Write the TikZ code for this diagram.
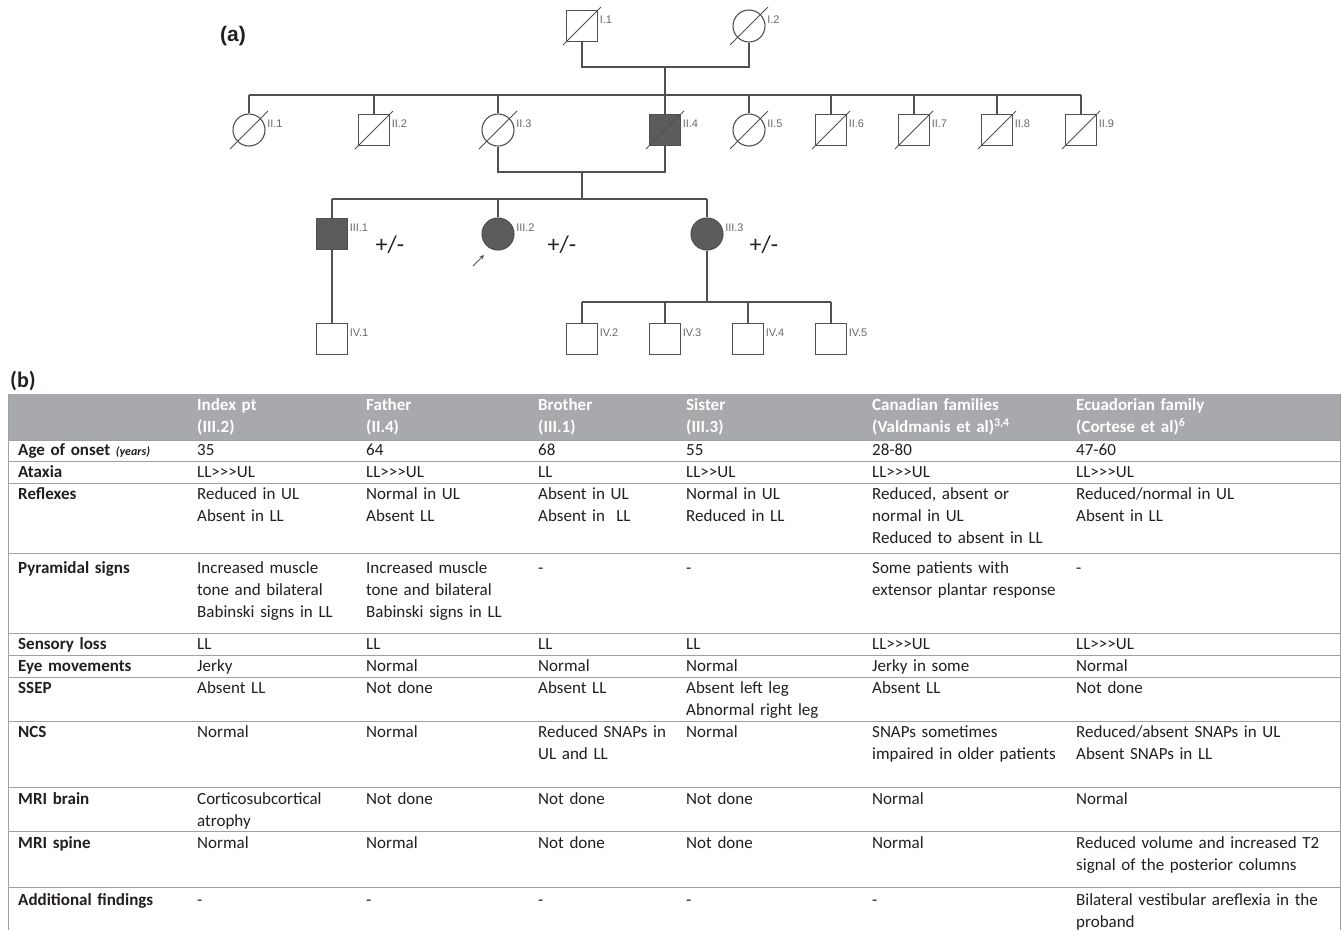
\documentclass[tikz,border=0pt]{standalone}
\usepackage{fontspec}
\setmainfont{Carlito}
\newfontfamily\pedfont{Liberation Sans}
\usetikzlibrary{positioning,arrows.meta,calc}
\definecolor{pedline}{RGB}{80,80,80}
\definecolor{pedfill}{RGB}{92,92,92}
\definecolor{pedlabel}{RGB}{105,105,105}
\definecolor{headgray}{RGB}{167,169,172}
\definecolor{rulegray}{RGB}{160,160,160}
\definecolor{tabtext}{RGB}{35,31,32}

\begin{document}
\begin{tikzpicture}[x=1pt,y=-1pt,>=Stealth]
  % Node styles for the pedigree and the table
  \tikzset{
    male/.style={rectangle, draw=pedline, line width=1.1pt, fill=white, minimum size=31pt, inner sep=0pt},
    female/.style={circle, draw=pedline, line width=1.1pt, fill=white, minimum size=32pt, inner sep=0pt},
    affected/.style={fill=pedfill},
    idtag/.style={font=\pedfont\fontsize{11}{11}\selectfont, text=pedlabel, inner sep=1.5pt, yshift=6pt},
    link/.style={draw=pedline, line width=1.1pt},
    deceased/.style={draw=pedline, line width=0.9pt},
    carrier/.style={font=\fontsize{24}{24}\selectfont, text=tabtext},
    panel/.style={font=\bfseries\fontsize{22}{22}\selectfont, text=tabtext},
    cell/.style={anchor=north west, inner sep=0pt, text width=250pt, align=left, text=tabtext, font=\fontsize{17}{22}\selectfont, execute at begin node=\strut},
    rowhead/.style={cell, text width=170pt, font=\bfseries\fontsize{17}{22}\selectfont},
    headcell/.style={cell, text=white, font=\bfseries\fontsize{17}{22}\selectfont},
    rule/.style={draw=rulegray, line width=0.9pt}
  }
  \useasboundingbox (0,0) rectangle (1342,930);
  \fill[white] (0,0) rectangle (1342,930);

  % (a) pedigree
  \node[panel, font=\pedfont\bfseries\fontsize{21}{21}\selectfont] (pa) at (233,36) {(a)};

  \node[male, label={[idtag]right:I.1}] (I1) at (582,26) {};
  \node[female, label={[idtag]right:I.2}] (I2) at (749,26) {};

  \node[female, label={[idtag]right:II.1}] (II1) at (249,130) {};
  \node[male, label={[idtag]right:II.2}] (II2) at (374,130) {};
  \node[female, label={[idtag]right:II.3}] (II3) at (498,130) {};
  \node[male, affected, label={[idtag]right:II.4}] (II4) at (665,130) {};
  \node[female, label={[idtag]right:II.5}] (II5) at (749,130) {};
  \node[male, label={[idtag]right:II.6}] (II6) at (831,130) {};
  \node[male, label={[idtag]right:II.7}] (II7) at (914,130) {};
  \node[male, label={[idtag]right:II.8}] (II8) at (997,130) {};
  \node[male, label={[idtag]right:II.9}] (II9) at (1081,130) {};

  \node[male, affected, label={[idtag]right:III.1}] (III1) at (332,234) {};
  \node[female, affected, label={[idtag]right:III.2}] (III2) at (498,234) {};
  \node[female, affected, label={[idtag]right:III.3}] (III3) at (707,234) {};

  \node[male, label={[idtag]right:IV.1}] (IV1) at (332,339) {};
  \node[male, label={[idtag]right:IV.2}] (IV2) at (582,339) {};
  \node[male, label={[idtag]right:IV.3}] (IV3) at (665,339) {};
  \node[male, label={[idtag]right:IV.4}] (IV4) at (748,339) {};
  \node[male, label={[idtag]right:IV.5}] (IV5) at (831,339) {};

  \node[carrier] (gt1) at (390,245) {+/-};
  \node[carrier] (gt2) at (562,245) {+/-};
  \node[carrier] (gt3) at (764,245) {+/-};

  % couples and sibships
  \coordinate (cI) at (665,67);
  \coordinate (sII) at (665,95);
  \draw[link] (I1.south) |- (cI) -| (I2.south);
  \draw[link] (cI) -- (sII);
  \draw[link] (II1.north |- sII) -- (II9.north |- sII);
  \foreach \n in {II1,II2,II3,II4,II5,II6,II7,II8,II9}
    \draw[link] (\n.north) -- (\n.north |- sII);

  \coordinate (cII) at (582,172);
  \coordinate (sIII) at (582,199);
  \draw[link] (II3.south) |- (cII) -| (II4.south);
  \draw[link] (cII) -- (sIII);
  \draw[link] (III1.north |- sIII) -- (III3.north |- sIII);
  \foreach \n in {III1,III2,III3}
    \draw[link] (\n.north) -- (\n.north |- sIII);

  \draw[link] (III1.south) -- (IV1.north);
  \coordinate (sIV) at (707,302);
  \draw[link] (III3.south) -- (sIV);
  \draw[link] (IV2.north |- sIV) -- (IV5.north |- sIV);
  \foreach \n in {IV2,IV3,IV4,IV5}
    \draw[link] (\n.north) -- (\n.north |- sIV);

  % deceased strokes
  \foreach \n in {I1,I2,II1,II2,II3,II4,II5,II6,II7,II8,II9}
    \draw[deceased] ($(\n.center)+(-19,19)$) -- ($(\n.center)+(19,-19)$);

  % proband
  \coordinate (pbtail) at (473,266);
  \coordinate (pbtip) at (484,255);
  \draw[deceased, line width=0.8pt, -{Stealth[length=4.5pt,width=4pt]}] (pbtail) -- (pbtip);

  % (b) table
  \node[panel] (pb) at (23,381) {(b)};
  \fill[headgray] (8,394) rectangle (1340,440);
  \foreach \y in {440,461,483,553,633,655,677,721,787,831,887}
    \draw[rule] (8,\y) -- (1340,\y);
  \draw[rule] (8,394) -- (8,930);
  \draw[rule] (1340,394) -- (1340,930);

  \foreach \cx/\txt [count=\i] in {197/{Index pt\\(III.2)},366/{Father\\(II.4)},538/{Brother\\(III.1)},686/{Sister\\(III.3)},872/{Canadian families\\(Valdmanis et al)\textsuperscript{3,4}},1076/{Ecuadorian family\\(Cortese et al)\textsuperscript{6}}}
    \node[headcell] (hd\i) at (\cx,395) {\txt};

  \coordinate (c0) at (18,395);
  \foreach \nm/\y in {rAge/440,rAtaxia/462,rReflex/484,rPyram/558,rSensory/634,rEye/656,rSSEP/678,rNCS/722,rBrain/789,rSpine/833,rExtra/890}
    \coordinate (\nm) at (0,\y);

  \node[rowhead] (hAge) at (c0 |- rAge) {Age of onset {\itshape\fontsize{12}{22}\selectfont (years)}};
  \foreach \txt [count=\i] in {35,64,68,55,28-80,47-60}
    \node[cell] (age\i) at (hd\i.north west |- rAge) {\txt};

  \node[rowhead] (hAtax) at (c0 |- rAtaxia) {Ataxia};
  \foreach \txt [count=\i] in {LL>{}>{}>UL,LL>{}>{}>UL,LL,LL>{}>UL,LL>{}>{}>UL,LL>{}>{}>UL}
    \node[cell] (atax\i) at (hd\i.north west |- rAtaxia) {\txt};

  \node[rowhead] (hRefl) at (c0 |- rReflex) {Reflexes};
  \foreach \txt [count=\i] in {{Reduced in UL\\Absent in LL},{Normal in UL\\Absent LL},{Absent in UL\\Absent in~~LL},{Normal in UL\\Reduced in LL},{Reduced, absent or\\normal in UL\\Reduced to absent in LL},{Reduced/normal in UL\\Absent in LL}}
    \node[cell] (refl\i) at (hd\i.north west |- rReflex) {\txt};

  \node[rowhead] (hPyr) at (c0 |- rPyram) {Pyramidal signs};
  \foreach \txt [count=\i] in {{Increased muscle\\tone and bilateral\\Babinski signs in LL},{Increased muscle\\tone and bilateral\\Babinski signs in LL},-,-,{Some patients with\\extensor plantar response},-}
    \node[cell] (pyr\i) at (hd\i.north west |- rPyram) {\txt};

  \node[rowhead] (hSens) at (c0 |- rSensory) {Sensory loss};
  \foreach \txt [count=\i] in {LL,LL,LL,LL,LL>{}>{}>UL,LL>{}>{}>UL}
    \node[cell] (sens\i) at (hd\i.north west |- rSensory) {\txt};

  \node[rowhead] (hEye) at (c0 |- rEye) {Eye movements};
  \foreach \txt [count=\i] in {Jerky,Normal,Normal,Normal,Jerky in some,Normal}
    \node[cell] (eye\i) at (hd\i.north west |- rEye) {\txt};

  \node[rowhead] (hSsep) at (c0 |- rSSEP) {SSEP};
  \foreach \txt [count=\i] in {Absent LL,Not done,Absent LL,{Absent left leg\\Abnormal right leg},Absent LL,Not done}
    \node[cell] (ssep\i) at (hd\i.north west |- rSSEP) {\txt};

  \node[rowhead] (hNcs) at (c0 |- rNCS) {NCS};
  \foreach \txt [count=\i] in {Normal,Normal,{Reduced SNAPs in\\UL and LL},Normal,{SNAPs sometimes\\impaired in older patients},{Reduced/absent SNAPs in UL\\Absent SNAPs in LL}}
    \node[cell] (ncs\i) at (hd\i.north west |- rNCS) {\txt};

  \node[rowhead] (hBrain) at (c0 |- rBrain) {MRI brain};
  \foreach \txt [count=\i] in {{Corticosubcortical\\atrophy},Not done,Not done,Not done,Normal,Normal}
    \node[cell] (brain\i) at (hd\i.north west |- rBrain) {\txt};

  \node[rowhead] (hSpine) at (c0 |- rSpine) {MRI spine};
  \foreach \txt [count=\i] in {Normal,Normal,Not done,Not done,Normal,{Reduced volume and increased T2\\signal of the posterior columns}}
    \node[cell] (spine\i) at (hd\i.north west |- rSpine) {\txt};

  \node[rowhead] (hExtra) at (c0 |- rExtra) {Additional findings};
  \foreach \txt [count=\i] in {-,-,-,-,-,{Bilateral vestibular areflexia in the\\proband}}
    \node[cell] (extra\i) at (hd\i.north west |- rExtra) {\txt};
\end{tikzpicture}
\end{document}
